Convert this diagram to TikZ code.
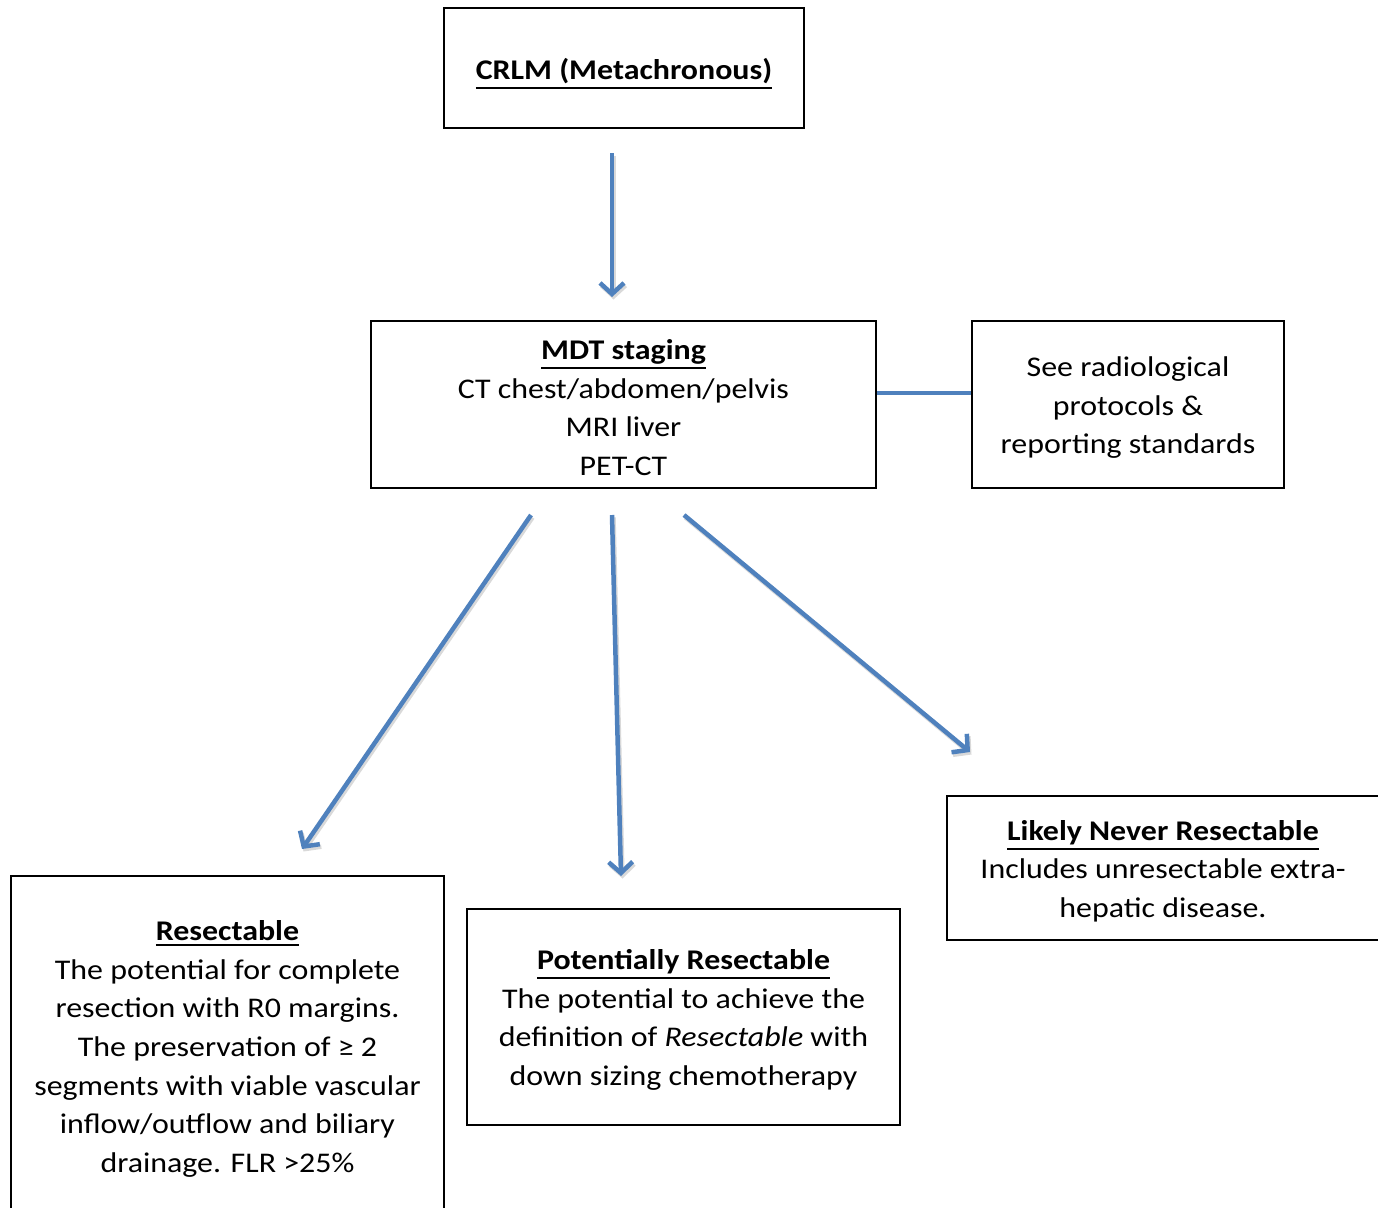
\documentclass[tikz,border=0pt]{standalone}
\usepackage{fontspec}
\setmainfont{Carlito}[FakeStretch=1.12]
\usetikzlibrary{arrows.meta}
\definecolor{arrblue}{RGB}{79,129,189}
\newcommand\hul[1]{\leavevmode\vtop{\hbox{#1}\kern3pt\hrule height 2pt}}
\newcommand\topstr{\rule{0pt}{26pt}}
\begin{document}
\begin{tikzpicture}[x=1pt,y=-1pt,
  box/.style={draw=black, line width=2pt, inner sep=0pt, align=center,
    font=\fontsize{28.5}{38.6}\selectfont},
  arr/.style={draw=arrblue, line width=4.5pt,
    -{Straight Barb[length=11pt,width=24pt,line width=4.5pt]}},
  shadowarr/.style={draw=black!15, line width=4.5pt,
    -{Straight Barb[length=11pt,width=24pt,line width=4.5pt]}},
  link/.style={draw=arrblue, line width=4pt},
]
\useasboundingbox (0,0) rectangle (1378,1207);
\clip (0,0) rectangle (1378,1207);

\node[box, minimum width=360pt, minimum height=120pt] (crlm) at (624,68)
  {\rule{0pt}{32pt}\textbf{\hul{CRLM (Metachronous)}}};
\node[box, minimum width=505pt, minimum height=167pt] (mdt) at (623.5,404.5)
  {\topstr\textbf{\hul{MDT staging}}\\CT chest/abdomen/pelvis\\MRI liver\\PET-CT};
\node[box, minimum width=312pt, minimum height=167pt] (see) at (1128,404.5)
  {\topstr See radiological\\protocols \&\\reporting standards};
\node[box, minimum width=433pt, minimum height=340pt] (res) at (227.5,1046)
  {\topstr\textbf{\hul{Resectable}}\\The potential for complete\\resection with R0 margins.\\The preservation of ≥ 2\\segments with viable vascular\\inflow/outflow and biliary\\drainage. FLR >25\%};
\node[box, minimum width=433pt, minimum height=216pt] (pot) at (683.5,1017)
  {\topstr\textbf{\hul{Potentially Resectable}}\\The potential to achieve the\\definition of \textit{Resectable} with\\down sizing chemotherapy};
\node[box, minimum width=432pt, minimum height=144pt] (nev) at (1163,868)
  {\topstr\textbf{\hul{Likely Never Resectable}}\\Includes unresectable extra-\\hepatic disease.};

\coordinate (a0s) at (612,153);
\coordinate (a0e) at (612,297);
\coordinate (a1s) at (531,515);
\coordinate (a1e) at (302,849);
\coordinate (a2s) at (612,515);
\coordinate (a2e) at (621,876);
\coordinate (a3s) at (684,515);
\coordinate (a3e) at (970,752);

\foreach \s/\e in {a0s/a0e,a1s/a1e,a2s/a2e,a3s/a3e}{
  \draw[shadowarr] ([shift={(1.5,2.5)}]\s) -- ([shift={(1.5,2.5)}]\e);
  \draw[arr] (\s) -- (\e);
}
\draw[link] ([yshift=11.5pt]mdt.east) -- ([yshift=11.5pt]see.west);
\end{tikzpicture}
\end{document}
